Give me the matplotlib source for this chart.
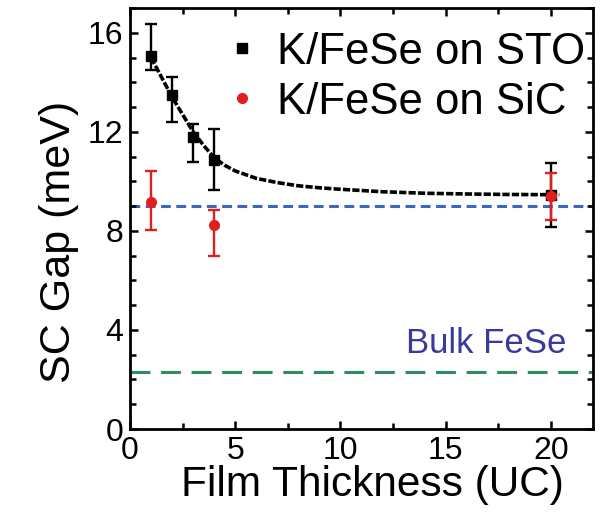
import numpy as np
import matplotlib
matplotlib.use("Agg")
import matplotlib.pyplot as plt
from matplotlib.ticker import MultipleLocator

plt.rcParams['font.family'] = ['Liberation Sans', 'DejaVu Sans']

# K/FeSe on STO (black squares)
sto_x = [1, 2, 3, 4, 20]
sto_y = [15.05, 13.5, 11.8, 10.85, 9.45]
sto_err_lo = [0.55, 1.1, 1.0, 1.2, 1.3]
sto_err_hi = [1.3, 0.7, 0.5, 1.25, 1.3]

# K/FeSe on SiC (red circles)
sic_x = [1, 4, 20]
sic_y = [9.15, 8.25, 9.4]
sic_err_lo = [1.1, 1.25, 0.95]
sic_err_hi = [1.25, 0.6, 0.95]

# fitted curve through STO points
fit_x = [1, 1.5, 2, 2.5, 3, 3.5, 4, 4.5, 5, 6, 7, 8, 9, 10, 12, 14, 16, 18, 20.4]
fit_y = [15.0, 14.2, 13.4, 12.7, 12.0, 11.45, 10.95, 10.65, 10.42, 10.12, 9.95,
         9.82, 9.74, 9.68, 9.58, 9.52, 9.49, 9.47, 9.46]

sic_level = 9.0     # blue dashed line
bulk_level = 2.3    # green dashed line

fig = plt.figure(figsize=(6.03, 5.19), dpi=100)
ax = fig.add_axes([0.2156, 0.1734, 0.7678, 0.8112])

ax.axhline(sic_level, color='#3b66c2', lw=2.2, dashes=(3.2, 1.8), zorder=1)
ax.axhline(bulk_level, color='#2f8c5e', lw=2.2, dashes=(6.5, 3.5), zorder=1)

ax.plot(fit_x, fit_y, color='black', lw=2.6, dashes=(2.0, 0.6), zorder=2)

ax.errorbar(sto_x, sto_y, yerr=[sto_err_lo, sto_err_hi], fmt='s', color='black',
            ms=6.5, elinewidth=1.7, capsize=4, capthick=1.7, zorder=3,
            label='K/FeSe on STO')
ax.errorbar(sic_x, sic_y, yerr=[sic_err_lo, sic_err_hi], fmt='o', color='#e01f1f',
            ms=7, elinewidth=1.7, capsize=4, capthick=1.7, zorder=4,
            label='K/FeSe on SiC')

ax.text(20.75, 3.45, 'Bulk FeSe', color='#3a3a9c', fontsize=25,
        ha='right', va='center')

ax.set_xlim(0, 22)
ax.set_ylim(0, 17)
ax.xaxis.set_major_locator(MultipleLocator(5))
ax.xaxis.set_minor_locator(MultipleLocator(2.5))
ax.yaxis.set_major_locator(MultipleLocator(4))
ax.yaxis.set_minor_locator(MultipleLocator(1))
ax.tick_params(which='both', direction='in', top=True, right=True, width=1.8,
               labelsize=23)
ax.tick_params(which='major', length=6, pad=5)
ax.tick_params(which='minor', length=4)
for s in ax.spines.values():
    s.set_linewidth(2)

ax.set_xlabel('Film Thickness (UC)', fontsize=30.5)
ax.xaxis.set_label_coords(0.523, -0.085)
ax.set_ylabel('SC Gap (meV)', fontsize=31)
ax.yaxis.set_label_coords(-0.11, 0.445)

handles, labels = ax.get_legend_handles_labels()
leg = ax.legend([h[0] for h in handles], labels, loc='upper right',
                bbox_to_anchor=(1.02, 0.985), frameon=False, fontsize=31.5,
                handlelength=0.5, handletextpad=0.55, labelspacing=0.2,
                borderaxespad=0.0, numpoints=1)

fig.savefig('out.png', dpi=100)
